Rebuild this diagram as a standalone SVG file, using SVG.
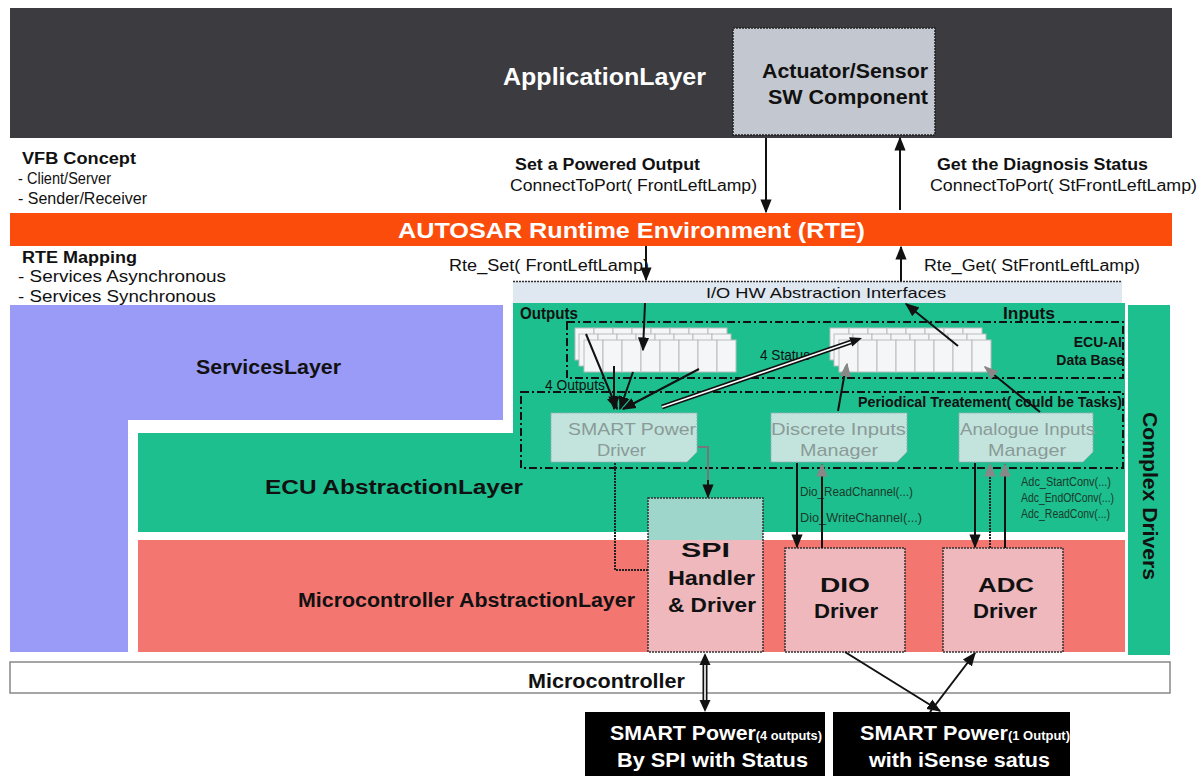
<svg xmlns="http://www.w3.org/2000/svg" width="1203" height="776" viewBox="0 0 1203 776">
<defs>
<style>
text{font-family:"Liberation Sans",Arial,sans-serif;}
.b{font-weight:bold;}
.lbl{font-size:16px;fill:#111;}
.big{font-size:20px;font-weight:bold;fill:#111;}
.wh{fill:#fff;font-weight:bold;}
.ln{stroke:#111;stroke-width:2;fill:none;}
.gl{stroke:#777;stroke-width:2;fill:none;}
.dd{stroke:#111;stroke-width:2;fill:none;stroke-dasharray:8 3 2 3;}
.dot{stroke:#333;stroke-width:1.5;stroke-dasharray:2 1;}
.cell{fill:#f4f6f8;stroke:#bbb;stroke-width:1;}
.note{fill:#c2e4dc;stroke:#9ab;stroke-width:1;stroke-dasharray:2 1;}
.nt{font-size:17px;fill:#8a9a98;}
.sm{font-size:12px;fill:#1a3a2a;}
</style>
<marker id="ah" viewBox="0 0 10 10" refX="9" refY="5" markerWidth="7" markerHeight="7" orient="auto-start-reverse"><path d="M0,1 L10,5 L0,9 z" fill="#111"/></marker>
<marker id="ag" viewBox="0 0 10 10" refX="9" refY="5" markerWidth="7" markerHeight="7" orient="auto-start-reverse"><path d="M0,1 L10,5 L0,9 z" fill="#888"/></marker>
<g id="cells">
<rect class="cell" x="0" y="0" width="19" height="32"/><rect class="cell" x="19" y="0" width="19" height="32"/><rect class="cell" x="38" y="0" width="19" height="32"/><rect class="cell" x="57" y="0" width="19" height="32"/><rect class="cell" x="76" y="0" width="19" height="32"/><rect class="cell" x="95" y="0" width="19" height="32"/><rect class="cell" x="114" y="0" width="19" height="32"/><rect class="cell" x="133" y="0" width="19" height="32"/>
</g>
</defs>
<rect width="1203" height="776" fill="#fff"/>

<g id="application-layer">
<rect x="10" y="8" width="1162" height="130" fill="#3b3b40"/>
<text x="503" y="85" class="wh" font-size="23" textLength="203" lengthAdjust="spacingAndGlyphs">ApplicationLayer</text>
</g>
<g id="actuator-sensor">
<rect x="733" y="28" width="202" height="107" fill="#c3c7cf" stroke="#222" stroke-width="1.5" stroke-dasharray="2 1"/>
<text x="762" y="78" class="b" font-size="20" fill="#111" textLength="166" lengthAdjust="spacingAndGlyphs">Actuator/Sensor</text>
<text x="768" y="104" class="b" font-size="20" fill="#111" textLength="160" lengthAdjust="spacingAndGlyphs">SW Component</text>
</g>

<g id="vfb-notes">
<text x="22" y="164" class="lbl b" textLength="114" lengthAdjust="spacingAndGlyphs">VFB Concept</text>
<text x="18" y="184" class="lbl" textLength="93" lengthAdjust="spacingAndGlyphs">-  Client/Server</text>
<text x="18" y="204" class="lbl" textLength="129" lengthAdjust="spacingAndGlyphs">-  Sender/Receiver</text>
<text x="515" y="170" class="lbl b" textLength="185" lengthAdjust="spacingAndGlyphs">Set a Powered Output</text>
<text x="510" y="191" class="lbl" textLength="247" lengthAdjust="spacingAndGlyphs">ConnectToPort(  FrontLeftLamp)</text>
<text x="937" y="170" class="lbl b" textLength="211" lengthAdjust="spacingAndGlyphs">Get the Diagnosis Status</text>
<text x="930" y="191" class="lbl" textLength="267" lengthAdjust="spacingAndGlyphs">ConnectToPort(  StFrontLeftLamp)</text>
</g>

<g id="rte">
<rect x="10" y="213" width="1162" height="33" fill="#fb4c0c"/>
<text x="398" y="238" class="wh" font-size="22" textLength="467" lengthAdjust="spacingAndGlyphs">AUTOSAR Runtime Environment (RTE)</text>
</g>

<g id="rte-mapping">
<text x="22" y="263" class="lbl b" textLength="115" lengthAdjust="spacingAndGlyphs">RTE Mapping</text>
<text x="18" y="282" class="lbl" textLength="208" lengthAdjust="spacingAndGlyphs">-    Services Asynchronous</text>
<text x="18" y="302" class="lbl" textLength="198" lengthAdjust="spacingAndGlyphs">-    Services Synchronous</text>
<text x="449" y="271" class="lbl" textLength="200" lengthAdjust="spacingAndGlyphs">Rte_Set(  FrontLeftLamp)</text>
<text x="924" y="271" class="lbl" textLength="216" lengthAdjust="spacingAndGlyphs">Rte_Get(  StFrontLeftLamp)</text>
</g>

<g id="io-hw">
<rect x="513" y="281" width="609" height="22" fill="#dfe7f0"/>
<line x1="513" y1="281.5" x2="1122" y2="281.5" class="dot"/>
<text x="706" y="298" font-size="15" fill="#111" textLength="240" lengthAdjust="spacingAndGlyphs">I/O HW Abstraction Interfaces</text>
</g>

<g id="services-layer">
<path d="M10,305 H503 V420 H128 V652 H10 Z" fill="#9a9af7"/>
<text x="196" y="374" class="big" textLength="145" lengthAdjust="spacingAndGlyphs">ServicesLayer</text>
</g>

<g id="ecu-abstraction">
<path d="M513,303 H1125 V532 H138 V433 H513 Z" fill="#1dbf8e"/>
<text x="265" y="494" class="big" textLength="258" lengthAdjust="spacingAndGlyphs">ECU  AbstractionLayer</text>
<text x="520" y="319" class="lbl b" textLength="58" lengthAdjust="spacingAndGlyphs">Outputs</text>
<text x="1003" y="319" class="lbl b" textLength="52" lengthAdjust="spacingAndGlyphs">Inputs</text>
</g>

<g id="complex-drivers">
<rect x="1128" y="305" width="42" height="350" fill="#1dbf8e"/>
<text transform="translate(1143,412) rotate(90)" class="big" textLength="168" lengthAdjust="spacingAndGlyphs">Complex Drivers</text>
</g>

<g id="mcal">
<rect x="138" y="540" width="987" height="112" fill="#f47671"/>
<text x="298" y="607" class="big" textLength="337" lengthAdjust="spacingAndGlyphs">Microcontroller AbstractionLayer</text>
</g>

<g id="microcontroller">
<rect x="10" y="662" width="1160" height="31" fill="#fff" stroke="#888" stroke-width="1.5"/>
<text x="528" y="688" class="big" textLength="157" lengthAdjust="spacingAndGlyphs">Microcontroller</text>
</g>

<g id="ecu-db">
<rect x="567" y="322" width="556" height="56" fill="#96ddc9" class="dd"/>
<use href="#cells" x="575" y="328"/>
<use href="#cells" x="579" y="334"/>
<use href="#cells" x="584" y="340"/>
<use href="#cells" x="830" y="328"/>
<use href="#cells" x="834" y="334"/>
<use href="#cells" x="839" y="340"/>
<text x="1122" y="347" font-size="14" class="b" text-anchor="end" fill="#111">ECU-AI</text>
<text x="1124" y="365" font-size="14" class="b" text-anchor="end" fill="#111">Data Base</text>
<text x="760" y="360" font-size="14" fill="#111" textLength="50" lengthAdjust="spacingAndGlyphs">4 Status</text>
<text x="545" y="390" font-size="14" fill="#111" textLength="60" lengthAdjust="spacingAndGlyphs">4 Outputs</text>
</g>

<g id="periodical">
<rect x="521" y="392" width="602" height="76" fill="#8ad9c4" class="dd"/>
<text x="858" y="407" font-size="14" class="b" fill="#111" textLength="264" lengthAdjust="spacingAndGlyphs">Periodical Treatement( could be Tasks)</text>
</g>

<g id="smart-power-driver">
<path class="note" d="M551,413 H697 V452 L687,462 H551 Z"/>
<text x="568" y="435" class="nt" textLength="128" lengthAdjust="spacingAndGlyphs">SMART Power</text>
<text x="597" y="456" class="nt" textLength="49" lengthAdjust="spacingAndGlyphs">Driver</text>
</g>
<g id="discrete-inputs">
<path class="note" d="M771,413 H907 V452 L897,462 H771 Z"/>
<text x="771" y="435" class="nt" textLength="135" lengthAdjust="spacingAndGlyphs">Discrete Inputs</text>
<text x="800" y="456" class="nt" textLength="78" lengthAdjust="spacingAndGlyphs">Manager</text>
</g>
<g id="analogue-inputs">
<path class="note" d="M959,413 H1093 V452 L1083,462 H959 Z"/>
<text x="960" y="435" class="nt" textLength="135" lengthAdjust="spacingAndGlyphs">Analogue Inputs</text>
<text x="988" y="456" class="nt" textLength="78" lengthAdjust="spacingAndGlyphs">Manager</text>
</g>

<g id="spi-driver">
<rect x="648" y="498" width="115" height="42" fill="#9fd6cb"/>
<rect x="648" y="540" width="115" height="112" fill="#eeb8bd"/>
<rect x="648" y="498" width="115" height="154" fill="none" class="dot"/>
<text x="681" y="557" class="big" font-size="21" textLength="49" lengthAdjust="spacingAndGlyphs">SPI</text>
<text x="668" y="585" class="big" font-size="21" textLength="87" lengthAdjust="spacingAndGlyphs">Handler</text>
<text x="668" y="612" class="big" font-size="21" textLength="88" lengthAdjust="spacingAndGlyphs">&amp; Driver</text>
</g>
<g id="dio-driver">
<rect x="785" y="548" width="120" height="104" fill="#eeb8bd" class="dot"/>
<text x="820" y="592" class="big" font-size="21" textLength="50" lengthAdjust="spacingAndGlyphs">DIO</text>
<text x="814" y="618" class="big" font-size="21" textLength="64" lengthAdjust="spacingAndGlyphs">Driver</text>
</g>
<g id="adc-driver">
<rect x="943" y="548" width="120" height="104" fill="#eeb8bd" class="dot"/>
<text x="978" y="592" class="big" font-size="21" textLength="56" lengthAdjust="spacingAndGlyphs">ADC</text>
<text x="973" y="618" class="big" font-size="21" textLength="64" lengthAdjust="spacingAndGlyphs">Driver</text>
</g>

<g id="smart-power-4">
<rect x="585" y="712" width="240" height="64" fill="#000"/>
<text x="610" y="740" class="wh" font-size="20" textLength="212" lengthAdjust="spacingAndGlyphs">SMART Power<tspan font-size="12">(4 outputs)</tspan></text>
<text x="617" y="767" class="wh" font-size="20" textLength="191" lengthAdjust="spacingAndGlyphs">By SPI with Status</text>
</g>
<g id="smart-power-1">
<rect x="833" y="712" width="237" height="64" fill="#000"/>
<text x="860" y="740" class="wh" font-size="20" textLength="210" lengthAdjust="spacingAndGlyphs">SMART Power<tspan font-size="12">(1 Output)</tspan></text>
<text x="869" y="767" class="wh" font-size="20" textLength="181" lengthAdjust="spacingAndGlyphs">with iSense satus</text>
</g>

<g id="call-labels">
<text x="800" y="496" class="sm" textLength="113" lengthAdjust="spacingAndGlyphs">Dio_ReadChannel(...)</text>
<text x="800" y="522" class="sm" textLength="122" lengthAdjust="spacingAndGlyphs">Dio_WriteChannel(...)</text>
<text x="1021" y="486" class="sm" textLength="90" lengthAdjust="spacingAndGlyphs">Adc_StartConv(...)</text>
<text x="1021" y="502" class="sm" textLength="93" lengthAdjust="spacingAndGlyphs">Adc_EndOfConv(...)</text>
<text x="1021" y="518" class="sm" textLength="89" lengthAdjust="spacingAndGlyphs">Adc_ReadConv(...)</text>
</g>

<g id="connectors">
<line x1="766" y1="138" x2="766" y2="212" class="ln" marker-end="url(#ah)"/>
<line x1="900" y1="210" x2="900" y2="138" class="ln" marker-end="url(#ah)"/>
<line x1="646" y1="246" x2="646" y2="280" class="ln" marker-end="url(#ah)"/>
<line x1="901" y1="281" x2="901" y2="247" class="ln" marker-end="url(#ah)"/>
<line x1="645" y1="303" x2="643" y2="350" class="ln" marker-end="url(#ah)"/>
<line x1="958" y1="346" x2="906" y2="304" class="ln" marker-end="url(#ah)"/>
<line x1="586" y1="334" x2="617" y2="409" class="ln" marker-end="url(#ah)"/>
<line x1="614" y1="366" x2="614" y2="409" class="ln" marker-end="url(#ah)"/>
<line x1="633" y1="372" x2="620" y2="409" class="ln" marker-end="url(#ah)"/>
<line x1="699" y1="369" x2="623" y2="409" class="ln" marker-end="url(#ah)"/>
<line x1="662" y1="407" x2="851" y2="342" stroke="#111" stroke-width="5"/>
<line x1="662" y1="407" x2="851" y2="342" stroke="#fff" stroke-width="1.6"/>
<polygon points="862,338 852.3,346.6 849.1,337.2" fill="#111"/>
<line x1="838" y1="411" x2="846" y2="366" class="ln"/>
<line x1="846" y1="372" x2="847" y2="364" class="gl" marker-end="url(#ag)"/>
<line x1="1040" y1="412" x2="988" y2="370" class="ln"/>
<line x1="992" y1="373" x2="985" y2="367" class="gl" marker-end="url(#ag)"/>
<polyline points="698,447 708,447 708,497" class="gl"/>
<line x1="708" y1="480" x2="708" y2="497" class="ln" marker-end="url(#ah)"/>
<polyline points="615,463 615,570 648,570" fill="none" stroke="#222" stroke-width="2" stroke-dasharray="2 1"/>
<line x1="797" y1="463" x2="797" y2="547" class="ln" marker-end="url(#ah)"/>
<line x1="822" y1="548" x2="822" y2="464" class="ln" marker-end="url(#ag)"/>
<line x1="975" y1="463" x2="975" y2="547" class="ln" marker-end="url(#ah)"/>
<line x1="990" y1="548" x2="990" y2="464" fill="none" stroke="#222" stroke-width="2" stroke-dasharray="2 1" marker-end="url(#ag)"/>
<line x1="1005" y1="548" x2="1005" y2="464" class="ln" marker-end="url(#ag)"/>
<line x1="705" y1="664" x2="705" y2="701" stroke="#111" stroke-width="5"/>
<line x1="705" y1="664" x2="705" y2="701" stroke="#fff" stroke-width="1.6"/>
<polygon points="705,653 699.5,665 710.5,665" fill="#111"/>
<polygon points="705,712 699.5,700 710.5,700" fill="#111"/>
<line x1="845" y1="652" x2="940" y2="711" class="ln" marker-end="url(#ah)"/>
<line x1="930" y1="712" x2="975" y2="653" class="ln" marker-end="url(#ah)"/>
</g>
</svg>
